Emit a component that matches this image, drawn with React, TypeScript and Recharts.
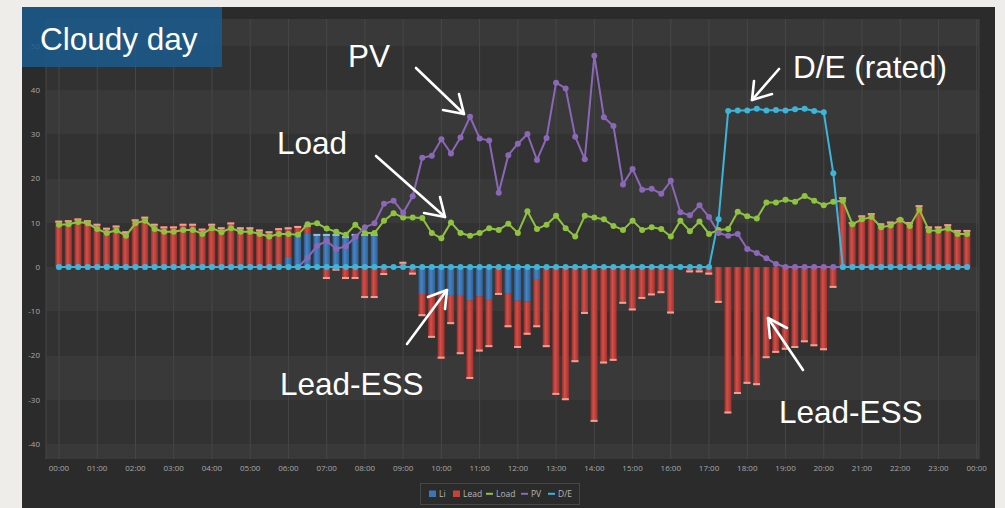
import { ComposedChart, Bar, Line, XAxis, YAxis, CartesianGrid } from 'recharts';

// 15-minute slots from 00:00 to 23:45, values in kW
const li = [
  0, 0, 0, 0, 0, 0, 0, 0, 0, 0, 0, 0, 0, 0, 0, 0, 0, 0, 0, 0, 0, 0, 0, 0,
  2.3, 7.5, 7.5, 7.5, 7.5, 7.5, 7.0, 7.5, 7.5, 7.5,
  0, 0, 0, 0,
  -6.1, -6.1, -6.1, -6.5, -6.3, -7.5, -6.6, -7.4, 0, -5.9, -7.6, -7.8, -2.7,
  0, 0, 0, 0, 0, 0, 0, 0, 0, 0, 0, 0, 0, 0, 0, 0, 0, 0, 0, 0, 0, 0, 0,
  0, 0, 0, 0, 0, 0, 0, 0, 0, 0, 0, 0, 0, 0, 0, 0, 0, 0, 0, 0, 0, 0,
];

const lead = [
  10.5, 10.6, 11.0, 10.6, 9.8, 8.9, 9.4, 8.1, 10.8, 11.4,
  9.8, 9.2, 9.2, 9.8, 9.8, 8.7, 9.8, 9.0, 10.1, 9.0,
  9.0, 8.5, 8.1, 8.8, 6.7, 1.8, 2.0, 0, -2.7, -0.8,
  -2.7, -2.7, -7.0, -7.0, -1.8, 0, 1.2, -1.7, -5.0, -9.9,
  -14.6, -6.4, -13.4, -17.8, -12.5, -10.7, -6.3, -7.7, -10.7, -7.5,
  -10.9, -18.1, -28.9, -30.1, -21.5, -10.6, -35.0, -21.8, -21.2, -8.3,
  -9.8, -7.2, -6.4, -5.9, -10.5, 0, -1.2, -1.2, -1.7, -8.1,
  -33.1, -28.7, -26.4, -26.7, -20.6, -19.4, -18.7, -18.3, -17.0, -17.9,
  -18.8, -4.7, 15.8, 10.2, 11.7, 12.2, 9.9, 10.3, 11.0, 10.2,
  14.0, 9.2, 9.2, 9.7, 8.4, 8.4,
];

const load = [
  9.6, 9.7, 10.2, 9.9, 8.6, 7.7, 8.3, 7.1, 9.9, 10.5,
  8.6, 8.0, 8.0, 8.4, 8.4, 7.5, 8.8, 7.9, 8.8, 8.0,
  8.0, 7.5, 6.9, 7.5, 7.5, 7.3, 9.7, 9.9, 8.7, 8.0,
  7.3, 9.6, 7.7, 7.7, 10.5, 12.2, 11.2, 11.2, 11.1, 7.7,
  6.5, 10.1, 7.7, 7.1, 7.7, 8.8, 8.4, 9.8, 7.7, 12.6,
  8.6, 9.6, 11.6, 8.8, 6.9, 11.6, 11.2, 10.8, 9.3, 8.4,
  10.5, 8.4, 9.0, 8.6, 6.9, 10.5, 8.1, 10.3, 7.5, 8.4,
  8.6, 12.5, 11.5, 11.0, 14.6, 14.6, 15.2, 14.8, 16.1, 15.0,
  14.0, 14.8, 15.0, 9.7, 10.8, 11.3, 9.0, 9.4, 10.7, 9.3,
  13.0, 8.3, 8.2, 8.7, 7.5, 7.5,
];

const pv = [
  0, 0, 0, 0, 0, 0, 0, 0, 0, 0, 0, 0, 0, 0, 0, 0, 0, 0, 0, 0, 0, 0, 0, 0, 0, 0,
  2.1, 4.8, 5.9, 4.1, 4.7, 6.8, 9.0, 9.9,
  14.3, 15.0, 12.3, 16.0, 24.7, 25.2, 28.9, 25.7, 29.3, 34.0,
  29.1, 28.6, 16.8, 25.3, 27.9, 30.1, 24.2, 29.2, 41.7, 40.4,
  29.5, 24.4, 47.8, 33.9, 31.9, 18.7, 22.2, 17.5, 17.7, 16.6,
  19.5, 12.4, 11.7, 14.0, 11.3, 7.7, 7.1, 7.5, 4.1, 3.2,
  2.0, 0.7,
  0, 0, 0, 0, 0, 0, 0, 0, 0, 0, 0, 0, 0, 0, 0, 0, 0, 0, 0, 0,
];

const de = [
  0, 0, 0, 0, 0, 0, 0, 0, 0, 0, 0, 0, 0, 0, 0, 0, 0, 0, 0, 0, 0, 0, 0, 0,
  0, 0, 0, 0, 0, 0, 0, 0, 0, 0, 0, 0, 0, 0, 0, 0, 0, 0, 0, 0, 0, 0, 0, 0,
  0, 0, 0, 0, 0, 0, 0, 0, 0, 0, 0, 0, 0, 0, 0, 0, 0, 0, 0, 0, 0,
  10.8, 35.3, 35.4, 35.4, 35.8, 35.4, 35.5, 35.4, 35.7, 35.8, 35.3, 35.0, 21.2,
  0, 0, 0, 0, 0, 0, 0, 0, 0, 0, 0, 0, 0, 0,
];

const hourTicks = [0, 1, 2, 3, 4, 5, 6, 7, 8, 9, 10, 11, 12, 13, 14, 15, 16, 17, 18, 19, 20, 21, 22, 23, 24];
const yTicks = [-40, -30, -20, -10, 0, 10, 20, 30, 40, 50];

const legendItems = [
  { name: 'Li', kind: 'box', color: '#3b76b6' },
  { name: 'Lead', kind: 'box', color: '#c8403a' },
  { name: 'Load', kind: 'line', color: '#8fc23f' },
  { name: 'PV', kind: 'line', color: '#8b67b7' },
  { name: 'D/E', kind: 'line', color: '#3db5d8' },
];
const legendX = [429, 453, 486, 521, 548];

const chartData = load.map((v, i) => ({
  t: i / 4,
  li: li[i],
  lead: lead[i],
  load: v,
  pv: pv[i],
  de: de[i],
}));

const fmtHour = (h: number) => `${String(h % 24).padStart(2, '0')}:00`;

const tickStyle = { fill: '#a8a8a8', fontSize: 8, fontFamily: '"Open Sans", sans-serif' };
const noteFont = '"Liberation Sans", Arial, sans-serif';

// bar drawn like a small cylinder with a light cap on its outer end
function cylinder(key: 'li' | 'lead') {
  return function CylinderBar(props: any) {
    const { x, y, width, height, payload } = props;
    const v = payload ? payload[key] : 0;
    if (!v || !width || !height) return <g />;
    const top = height < 0 ? y + height : y;
    const h = Math.abs(height);
    const other = key === 'li' ? payload.lead : 0;
    const covered = other * v > 0;
    const capH = Math.min(2, h);
    const capY = v < 0 ? top + h - capH : top;
    return (
      <g>
        <rect x={x} y={top} width={width} height={h} fill={`url(#grad-${key})`} />
        {!covered && (
          <rect x={x} y={capY} width={width} height={capH} fill={key === 'lead' ? '#eea096' : '#94bde6'} />
        )}
      </g>
    );
  };
}

function Arrow({ from, tip, a, b }: { from: number[]; tip: number[]; a: number[]; b: number[] }) {
  return (
    <g stroke="#fff" strokeWidth={2.6} fill="none" strokeLinecap="round" strokeLinejoin="round">
      <line x1={from[0]} y1={from[1]} x2={tip[0]} y2={tip[1]} />
      <polyline points={`${a[0]},${a[1]} ${tip[0]},${tip[1]} ${b[0]},${b[1]}`} />
    </g>
  );
}

function Notes() {
  return (
    <svg
      width={1005}
      height={508}
      style={{ position: 'absolute', left: 0, top: 0, pointerEvents: 'none' }}
    >
      <rect x={22} y={7} width={200} height={60} fill="#1b5b8d" opacity={0.86} />
      <text x={40} y={50} fill="#fff" fontSize={31.5} fontFamily={noteFont}>Cloudy day</text>

      <text x={348} y={67} fill="#fff" fontSize={31.5} fontFamily={noteFont}>PV</text>
      <Arrow from={[416, 68]} tip={[464, 114]} a={[443, 110]} b={[459, 94]} />

      <text x={277} y={154} fill="#fff" fontSize={31.5} fontFamily={noteFont}>Load</text>
      <Arrow from={[376, 156]} tip={[445, 217]} a={[424, 213]} b={[440, 197]} />

      <text x={793} y={78} fill="#fff" fontSize={31.5} fontFamily={noteFont}>D/E (rated)</text>
      <Arrow from={[779, 69]} tip={[752, 100]} a={[754, 81]} b={[772, 94]} />

      <text x={280} y={395} fill="#fff" fontSize={31.5} fontFamily={noteFont}>Lead-ESS</text>
      <Arrow from={[407, 344]} tip={[447, 290]} a={[428, 297]} b={[445, 309]} />

      <text x={779} y={423} fill="#fff" fontSize={31.5} fontFamily={noteFont}>Lead-ESS</text>
      <Arrow from={[803, 370]} tip={[768, 318]} a={[787, 328]} b={[770, 338]} />

      <rect x={420.5} y={483.5} width={159} height={21} fill="none" stroke="#474747" />
      {legendItems.map((it, i) => {
        const x0 = legendX[i];
        return (
          <g key={it.name}>
            {it.kind === 'box' ? (
              <rect x={x0} y={490.5} width={7} height={6.5} fill={it.color} />
            ) : (
              <line x1={x0} y1={493.8} x2={x0 + 7} y2={493.8} stroke={it.color} strokeWidth={2} />
            )}
            <text x={x0 + 10} y={496.8} fill="#b5b5b5" fontSize={8.5} fontFamily='"Open Sans", sans-serif'>
              {it.name}
            </text>
          </g>
        );
      })}
    </svg>
  );
}

export default function App() {
  return (
    <div style={{ position: 'absolute', left: 0, top: 0, width: 1005, height: 508, background: '#eeede9', overflow: 'hidden' }}>
      <div style={{ position: 'absolute', left: 22, top: 7, width: 973, height: 501, background: '#2b2b2b' }}>
        <div style={{ position: 'absolute', left: 0, top: 12 }}>
          <ComposedChart
            width={973}
            height={489}
            data={chartData}
            stackOffset="sign"
            margin={{ top: 0, right: 16, bottom: 0, left: 0 }}
          >
            <defs>
              <linearGradient id="grad-lead" x1="0" y1="0" x2="1" y2="0">
                <stop offset="0%" stopColor="#962c28" />
                <stop offset="40%" stopColor="#d2504a" />
                <stop offset="100%" stopColor="#a3302b" />
              </linearGradient>
              <linearGradient id="grad-li" x1="0" y1="0" x2="1" y2="0">
                <stop offset="0%" stopColor="#2a5a8e" />
                <stop offset="40%" stopColor="#4784c4" />
                <stop offset="100%" stopColor="#2e6299" />
              </linearGradient>
            </defs>
            <CartesianGrid vertical={false} horizontalFill={['#393939', '#323232']} stroke="none" />
            <CartesianGrid horizontal={false} stroke="#474747" />
            <XAxis
              type="number"
              dataKey="t"
              domain={[-0.34, 24.06]}
              allowDataOverflow
              ticks={hourTicks}
              interval={0}
              tickFormatter={fmtHour}
              tickLine={false}
              axisLine={false}
              height={49}
              tickSize={2}
              tickMargin={4}
              tick={tickStyle}
            />
            <YAxis
              type="number"
              domain={[-43.4, 56.1]}
              allowDataOverflow
              ticks={yTicks}
              width={24}
              tickLine={false}
              axisLine={false}
              tickSize={4}
              tickMargin={2}
              tick={tickStyle}
            />
            <Bar dataKey="li" name="Li" stackId="ess" barSize={7} fill="#3b76b6" shape={cylinder('li')} isAnimationActive={false} />
            <Bar dataKey="lead" name="Lead" stackId="ess" barSize={7} fill="#c8403a" shape={cylinder('lead')} isAnimationActive={false} />
            <Line
              type="linear"
              dataKey="load"
              name="Load"
              stroke="#8fc23f"
              strokeWidth={2}
              dot={{ r: 3, fill: '#8fc23f', stroke: 'none' }}
              isAnimationActive={false}
            />
            <Line
              type="linear"
              dataKey="pv"
              name="PV"
              stroke="#8b67b7"
              strokeWidth={2}
              dot={{ r: 3, fill: '#8b67b7', stroke: 'none' }}
              isAnimationActive={false}
            />
            <Line
              type="linear"
              dataKey="de"
              name="D/E"
              stroke="#3db5d8"
              strokeWidth={2}
              dot={{ r: 3, fill: '#3db5d8', stroke: 'none' }}
              isAnimationActive={false}
            />
          </ComposedChart>
        </div>
      </div>
      <Notes />
    </div>
  );
}
